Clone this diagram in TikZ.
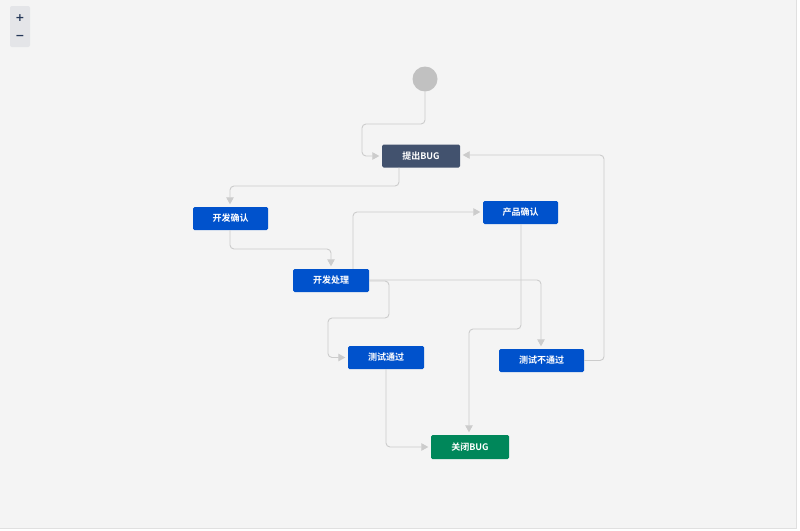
\documentclass[tikz,border=0pt]{standalone}
\usepackage{fontspec}
\newfontfamily\cjk{Noto Sans CJK SC}[BoldFont={* Bold}]
\newfontfamily\dejavu{DejaVu Sans}
\usetikzlibrary{arrows.meta}
\definecolor{bgc}{HTML}{F4F4F4}
\definecolor{edgec}{HTML}{CCCCCC}
\definecolor{darkc}{HTML}{42526E}
\definecolor{bluec}{HTML}{0052CC}
\definecolor{greenc}{HTML}{00875A}
\definecolor{startc}{HTML}{C1C1C1}
\definecolor{zoomc}{HTML}{E4E5E8}
\definecolor{zoomtext}{HTML}{253858}
\tikzset{
  statebox/.style={rounded corners=1.5pt, text=white, inner sep=0pt,
    font=\cjk\bfseries\fontsize{9}{10}\selectfont},
  bluebox/.style={statebox, fill=bluec},
  link/.style={draw=edgec, line width=0.9pt, rounded corners=4pt, shorten >=2.5pt,
    -{Triangle[length=7pt,width=7.5pt,fill=edgec]}},
}
\begin{document}
\begin{tikzpicture}[x=1pt,y=-1pt]
\useasboundingbox (0,0) rectangle (800,530);
\fill[white] (0,0) rectangle (800,530);
\fill[bgc] (0,0) rectangle (796.5,528.5);
\draw[draw=black!12, line width=0.8pt] (796.5,0) -- (796.5,528.5) -- (0,528.5);
% zoom control
\fill[zoomc, rounded corners=2pt] (10,6) rectangle (30,47);
\node[text=zoomtext] (plus) at (20,18) {\dejavu\bfseries\fontsize{11}{11}\selectfont +};
\node[text=zoomtext] (minus) at (20,37) {\dejavu\bfseries\fontsize{11}{11}\selectfont −};
% start
\node[circle, fill=startc, minimum size=25pt, inner sep=0pt] (start) at (425,79) {};
% states
\node[statebox, fill=darkc, minimum width=78pt, minimum height=23pt] (tichu) at (421,156) {提出BUG};
\node[bluebox, minimum width=75pt, minimum height=23pt] (kfqr) at (230.5,218.5) {开发确认};
\node[bluebox, minimum width=75pt, minimum height=23pt] (cpqr) at (520.5,212.5) {产品确认};
\node[bluebox, minimum width=76pt, minimum height=23pt] (kfcl) at (331,280.5) {开发处理};
\node[bluebox, minimum width=76pt, minimum height=23pt] (cstg) at (386,357.5) {测试通过};
\node[bluebox, minimum width=85pt, minimum height=23pt] (csbtg) at (541.5,360.5) {测试不通过};
\node[statebox, fill=greenc, minimum width=78pt, minimum height=24pt] (gb) at (470,447) {关闭BUG};
% connectors
\draw[link] (start.south) -- (425,124) -- (362,124) -- (362,156) -- (tichu.west);
\draw[link] (tichu.south -| 399,0) -- (399,186) -- (230,186) -- (kfqr.north -| 230,0);
\draw[link] (kfqr.south -| 230,0) -- (230,249) -- (331,249) -- (kfcl.north);
\draw[link] (kfcl.north -| 353,0) -- (353,212) -- (cpqr.west |- 0,212);
\draw[link] (kfcl.east |- 0,280) -- (541,280) -- (csbtg.north -| 541,0);
\draw[link] (kfcl.east |- 0,281) -- (389,281) -- (389,318) -- (328,318) -- (328,357.5) -- (cstg.west);
\draw[link] (cpqr.south -| 521,0) -- (521,329) -- (469,329) -- (gb.north -| 469,0);
\draw[link] (cstg.south) -- (386,447) -- (gb.west);
\draw[link] (csbtg.east) -- (604,360.5) -- (604,155) -- (tichu.east |- 0,155);
\end{tikzpicture}
\end{document}
